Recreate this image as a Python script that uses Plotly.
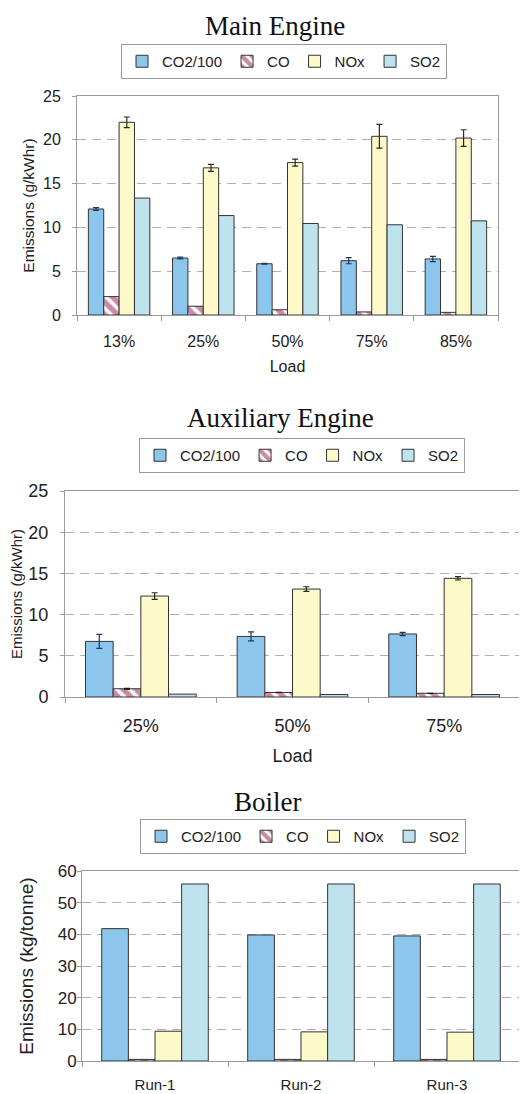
import plotly.graph_objects as go

# ---------------- data ----------------
series_names = ["CO2/100", "CO", "NOx", "SO2"]

main_loads = ["13%", "25%", "50%", "75%", "85%"]
main_co2 = [12.1, 6.5, 5.85, 6.2, 6.4]
main_co2_err = [0.15, 0.1, 0.05, 0.35, 0.3]
main_co = [2.1, 1.0, 0.6, 0.35, 0.3]
main_nox = [22.0, 16.8, 17.4, 20.4, 20.2]
main_nox_err = [0.6, 0.4, 0.4, 1.35, 0.95]
main_so2 = [13.35, 11.35, 10.45, 10.3, 10.75]

aux_loads = ["25%", "50%", "75%"]
aux_co2 = [6.75, 7.35, 7.65]
aux_co2_err = [0.85, 0.55, 0.2]
aux_co = [1.0, 0.55, 0.45]
aux_co_err = [0.05, 0.0, 0.0]
aux_nox = [12.25, 13.1, 14.4]
aux_nox_err = [0.4, 0.28, 0.2]
aux_so2 = [0.35, 0.3, 0.3]

boiler_runs = ["Run-1", "Run-2", "Run-3"]
boiler_co2 = [41.8, 39.8, 39.5]
boiler_co = [0.5, 0.5, 0.5]
boiler_nox = [9.4, 9.2, 9.1]
boiler_so2 = [55.9, 55.9, 55.9]

# ---------------- style ----------------
W, H = 527, 1094
OFF = 8  # default page body margin shifts the figure by 8px
C_CO2 = "#8CC6EC"
C_NOX = "#FDF9C9"
C_SO2 = "#BEE3EF"
C_CO_FG = "#931848"
OUTLINE = "#333333"
AXIS_C = "#9a9a9a"
GRID_C = "#b0b0b0"
SANS = "Liberation Sans, Arial, sans-serif"
SERIF = "Liberation Serif, Times New Roman, serif"


def px_x(p):
    return (p - OFF) / W


def px_y(p):
    return 1 - (p - OFF) / H


fig = go.Figure()


def add_panel(cats, co2, co, nox, so2, xa, ya, legend, co2_err=None, co_err=None, nox_err=None):
    def err(arr, color):
        if arr is None:
            return None
        return dict(type="data", array=arr, visible=True, color=color, thickness=1.2, width=3)

    fig.add_trace(go.Bar(
        name=series_names[0], x=cats, y=co2, xaxis=xa, yaxis=ya, legend=legend,
        marker=dict(color=C_CO2, line=dict(color=OUTLINE, width=1)),
        error_y=err(co2_err, "#1c3a60"), hoverinfo="x+y"))
    fig.add_trace(go.Bar(
        name=series_names[1], x=cats, y=co, xaxis=xa, yaxis=ya, legend=legend,
        marker=dict(color="white", line=dict(color=OUTLINE, width=1),
                    pattern=dict(shape="\\", fgcolor=C_CO_FG, bgcolor="white",
                                 size=9, solidity=0.6)),
        error_y=err(co_err, "#111111"), hoverinfo="x+y"))
    fig.add_trace(go.Bar(
        name=series_names[2], x=cats, y=nox, xaxis=xa, yaxis=ya, legend=legend,
        marker=dict(color=C_NOX, line=dict(color=OUTLINE, width=1)),
        error_y=err(nox_err, "#2a2a1a"), hoverinfo="x+y"))
    fig.add_trace(go.Bar(
        name=series_names[3], x=cats, y=so2, xaxis=xa, yaxis=ya, legend=legend,
        marker=dict(color=C_SO2, line=dict(color=OUTLINE, width=1)),
        hoverinfo="x+y"))


add_panel(main_loads, main_co2, main_co, main_nox, main_so2, "x", "y", "legend",
          co2_err=main_co2_err, nox_err=main_nox_err)
add_panel(aux_loads, aux_co2, aux_co, aux_nox, aux_so2, "x2", "y2", "legend2",
          co2_err=aux_co2_err, co_err=aux_co_err, nox_err=aux_nox_err)
add_panel(boiler_runs, boiler_co2, boiler_co, boiler_nox, boiler_so2, "x3", "y3", "legend3")


def xaxis(domain, anchor, font_size, title=None, title_size=16, standoff=14, title_standoff=4):
    d = dict(domain=domain, anchor=anchor, type="category", automargin=False,
             showline=True, linecolor=AXIS_C, linewidth=1, mirror=True,
             ticks="outside", tickson="boundaries", ticklen=5, tickcolor=AXIS_C,
             showgrid=False, zeroline=False,
             tickfont=dict(family=SANS, size=font_size, color="#222"),
             ticklabelstandoff=standoff)
    if title:
        d["title"] = dict(text=title, font=dict(family=SANS, size=title_size, color="#222"),
                          standoff=title_standoff)
    return d


def yaxis(domain, anchor, rng, dtick, font_size, title, title_size, standoff, tl_standoff):
    return dict(domain=domain, anchor=anchor, range=rng, dtick=dtick, automargin=False,
                showline=True, linecolor=AXIS_C, linewidth=1, mirror=True,
                ticks="outside", ticklen=4, tickcolor=AXIS_C,
                showgrid=True, gridcolor=GRID_C, griddash="9px,6px", gridwidth=1,
                zeroline=False,
                tickfont=dict(family=SANS, size=font_size, color="#222"),
                ticklabelstandoff=tl_standoff,
                title=dict(text=title, font=dict(family=SANS, size=title_size, color="#222"),
                           standoff=standoff))


legend_common = dict(orientation="h", xanchor="center", yanchor="top",
                     bgcolor="white", bordercolor=AXIS_C, borderwidth=1,
                     font=dict(family=SANS, size=15, color="#222"),
                     itemwidth=30, traceorder="normal", tracegroupgap=0)

fig.update_layout(
    width=W, height=H,
    margin=dict(l=0, r=0, t=0, b=0, pad=0, autoexpand=False),
    paper_bgcolor="white", plot_bgcolor="white",
    barmode="group", bargap=0.27, bargroupgap=0,
    xaxis=xaxis([px_x(77), px_x(498)], "y", 16, "Load", 16, 12, 11),
    yaxis=yaxis([px_y(315), px_y(96)], "x", [0, 25], 5, 16,
                "Emissions (g/kWhr)", 15.5, 4, 8),
    xaxis2=xaxis([px_x(65), px_x(520)], "y2", 18, "Load", 18, 12, 14),
    yaxis2=yaxis([px_y(697), px_y(491)], "x2", [0, 25], 5, 18,
                 "Emissions (g/kWhr)", 15, 2, 8),
    xaxis3=xaxis([px_x(82), px_x(520)], "y3", 15, None, 16, 10),
    yaxis3=yaxis([px_y(1061), px_y(871)], "x3", [0, 60], 10, 17,
                 "Emissions (kg/tonne)", 19, 19, -3),
    legend=dict(legend_common, x=px_x(284), y=px_y(44)),
    legend2=dict(legend_common, x=px_x(302), y=px_y(438)),
    legend3=dict(legend_common, x=px_x(303), y=px_y(819)),
    annotations=[
        dict(text="Main Engine", x=px_x(275), y=px_y(26), xref="paper", yref="paper",
             xanchor="center", yanchor="middle",
             showarrow=False, font=dict(family=SERIF, size=27, color="#111")),
        dict(text="Auxiliary Engine", x=px_x(280), y=px_y(418), xref="paper", yref="paper",
             xanchor="center", yanchor="middle",
             showarrow=False, font=dict(family=SERIF, size=27, color="#111")),
        dict(text="Boiler", x=px_x(268), y=px_y(802), xref="paper", yref="paper",
             xanchor="center", yanchor="middle",
             showarrow=False, font=dict(family=SERIF, size=27, color="#111")),
    ],
    showlegend=True,
)

fig.write_html("out.html")
